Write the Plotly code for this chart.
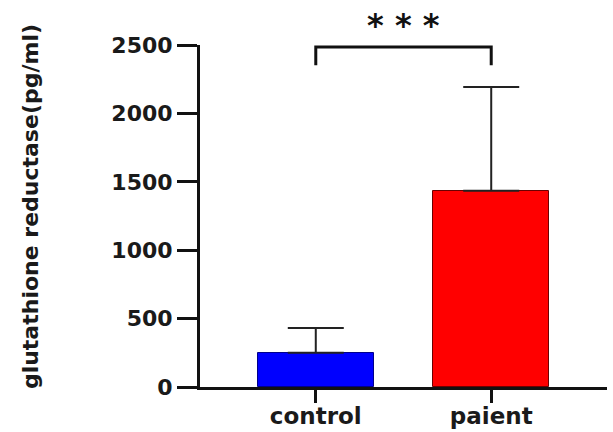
import plotly.graph_objects as go

categories = ["control", "paient"]
means = [250, 1435]
sd_upper = [182, 758]
bar_colors = ["#0000FF", "#FF0000"]
line_colors = ["#00008B", "#6B0000"]
y_ticks = [0, 500, 1000, 1500, 2000, 2500]
sig_label = "* * *"

FONT = "DejaVu Sans"

fig = go.Figure()
fig.add_trace(go.Bar(
    x=[0, 1], y=means, width=0.66,
    marker=dict(color=bar_colors, line=dict(color=line_colors, width=1)),
    error_y=dict(type="data", symmetric=False, array=sd_upper, arrayminus=[0, 0],
                 color="#222222", thickness=2, width=28),
))

# significance bracket
fig.add_shape(type="path", xref="x", yref="y",
              path="M 0 2352 L 0 2485 L 1 2485 L 1 2352",
              line=dict(color="#111111", width=3))
fig.add_annotation(x=0.5, y=(387 - 25) / 342, xref="x", yref="paper", text=f"<b>{sig_label}</b>",
                   showarrow=False, font=dict(family=FONT, size=32, color="#111111"),
                   xanchor="center", yanchor="middle")

fig.add_annotation(x=(30 - 200) / 407, y=0.526, xref="paper", yref="paper",
                   text="<b>glutathione reductase(pg/ml)</b>", textangle=-90,
                   showarrow=False, font=dict(family=FONT, size=22, color="#1a1a1a"),
                   xanchor="center", yanchor="middle")

fig.update_layout(
    width=613, height=432,
    margin=dict(l=200, r=6, t=45, b=45),
    plot_bgcolor="white", paper_bgcolor="white",
    showlegend=False,
    bargap=0,
)
fig.update_xaxes(
    range=[-0.66, 1.66], tickmode="array", tickvals=[0, 1],
    ticktext=[f"<b>{c}</b>" for c in categories],
    showline=True, linecolor="#111111", linewidth=3,
    ticks="outside", ticklen=13, tickwidth=3, tickcolor="#111111",
    tickfont=dict(family=FONT, size=23, color="#1a1a1a"),
    ticklabelstandoff=-7, automargin=False,
    showgrid=False, zeroline=False,
)
fig.update_yaxes(
    range=[0, 2500], tickmode="array", tickvals=y_ticks,
    ticktext=[f"<b>{v}</b>" for v in y_ticks],
    showline=True, linecolor="#111111", linewidth=3,
    ticks="outside", ticklen=20, tickwidth=3, tickcolor="#111111",
    tickfont=dict(family=FONT, size=22, color="#1a1a1a"),
    automargin=False,
    showgrid=False, zeroline=False,
)

fig.write_html("out.html", config={"displayModeBar": False},
               post_script="document.body.style.margin='0';document.body.style.overflow='hidden';")
